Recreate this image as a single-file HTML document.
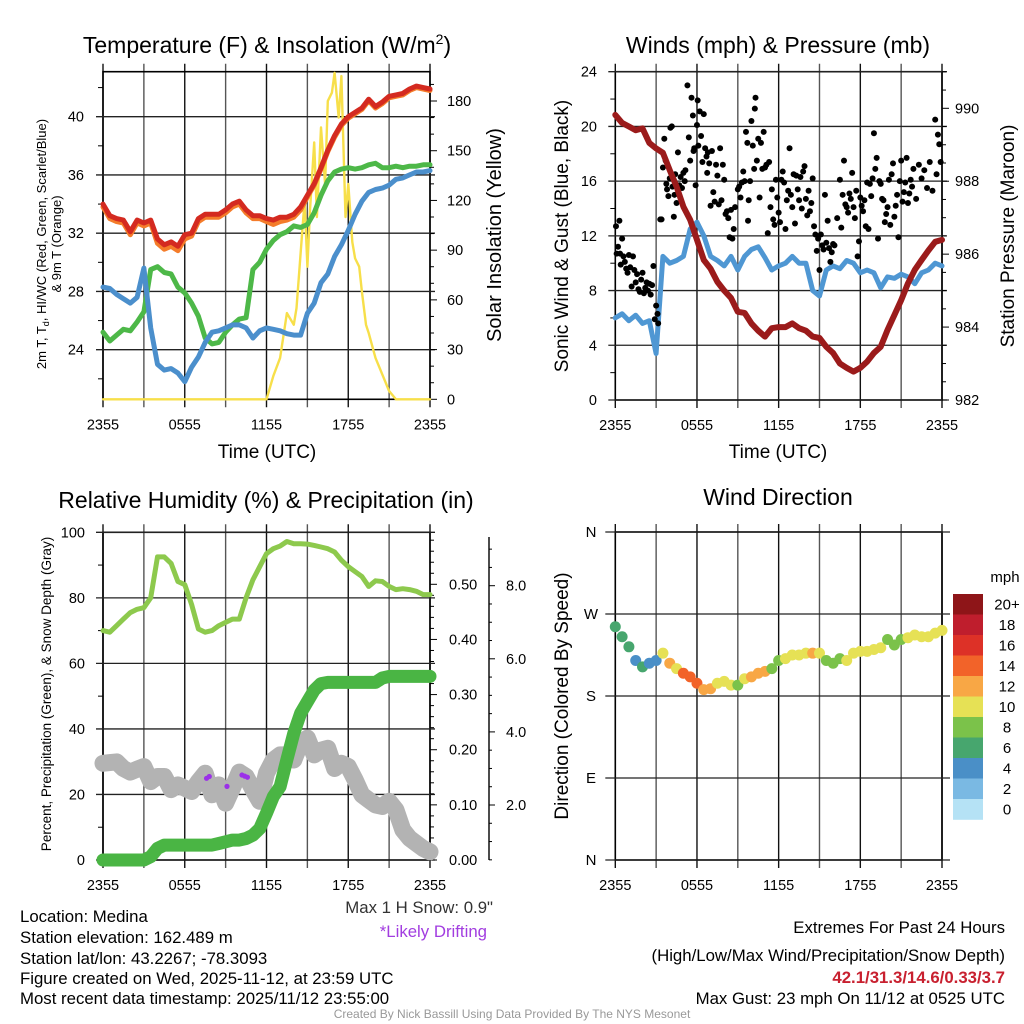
<!DOCTYPE html>
<html><head><meta charset="utf-8"><style>
html,body{margin:0;padding:0;background:#fff}
svg{display:block;font-family:"Liberation Sans",sans-serif}
</style></head><body>
<svg id="fig" width="1024" height="1024" viewBox="0 0 1024 1024">
<rect width="1024" height="1024" fill="#fff"/>
<g id="layer"></g>
<g font-size="23" text-anchor="middle" fill="#000">
<text x="267" y="53">Temperature (F) &amp; Insolation (W/m<tspan font-size="14" dy="-9">2</tspan><tspan dy="9">)</tspan></text>
<text x="778" y="53">Winds (mph) &amp; Pressure (mb)</text>
<text x="266" y="508">Relative Humidity (%) &amp; Precipitation (in)</text>
<text x="778" y="505">Wind Direction</text>
</g>
<g font-size="19" text-anchor="middle">
<text x="267" y="458">Time (UTC)</text>
<text x="778" y="458">Time (UTC)</text>
<text transform="translate(501,235) rotate(-90)" font-size="20">Solar Insolation (Yellow)</text>
<text transform="translate(568,236) rotate(-90)">Sonic Wind &amp; Gust (Blue, Black)</text>
<text transform="translate(1014,236) rotate(-90)">Station Pressure (Maroon)</text>
<text transform="translate(568,696) rotate(-90)">Direction (Colored By Speed)</text>
<text transform="translate(46,244) rotate(-90)" font-size="13">2m T, T<tspan font-size="9" dy="3">d</tspan><tspan dy="-3">, HI/WC (Red, Green, Scarlet/Blue)</tspan></text>
<text transform="translate(61,244) rotate(-90)" font-size="13">&amp; 9m T (Orange)</text>
<text transform="translate(51,694) rotate(-90)" font-size="13.5">Percent, Precipitation (Green), &amp; Snow Depth (Gray)</text>
</g>
<g font-size="16.8" fill="#000">
<text x="20" y="922">Location: Medina</text>
<text x="20" y="943">Station elevation: 162.489 m</text>
<text x="20" y="964">Station lat/lon: 43.2267; -78.3093</text>
<text x="20" y="984">Figure created on Wed, 2025-11-12, at 23:59 UTC</text>
<text x="20" y="1004">Most recent data timestamp: 2025/11/12 23:55:00</text>
<text x="493" y="913" text-anchor="end" fill="#333">Max 1 H Snow: 0.9"</text>
<text x="487" y="937" text-anchor="end" fill="#a23de0">*Likely Drifting</text>
<text x="1005" y="933" text-anchor="end">Extremes For Past 24 Hours</text>
<text x="1005" y="961" text-anchor="end">(High/Low/Max Wind/Precipitation/Snow Depth)</text>
<text x="1005" y="983" text-anchor="end" fill="#c8202f" font-weight="bold">42.1/31.3/14.6/0.33/3.7</text>
<text x="1005" y="1004" text-anchor="end">Max Gust: 23 mph On 11/12 at 0525 UTC</text>
<text x="512" y="1018" text-anchor="middle" font-size="12" fill="#999">Created By Nick Bassill Using Data Provided By The NYS Mesonet</text>
</g>
</svg>
<script>
// ---------- DATA ----------
const hours = [0,0.5,1,1.5,2,2.5,3,3.5,4,4.5,5,5.5,6,6.5,7,7.5,8,8.5,9,9.5,10,10.5,11,11.5,12,12.5,13,13.5,14,14.5,15,15.5,16,16.5,17,17.5,18,18.5,19,19.5,20,20.5,21,21.5,22,22.5,23,23.5,24];
const timeTickLabels = ["2355","0555","1155","1755","2355"];
const tempRed = [34,33.2,33,32.9,32.1,32.9,32.7,32.9,31.6,31.2,31.4,31.1,31.9,32,33,33.3,33.3,33.3,33.6,34,34.2,33.6,33.2,33.2,33,32.9,33.1,33.1,33.3,33.8,34.6,35.4,36.5,37.7,38.7,39.5,40,40.3,40.6,41.2,40.7,41,41.4,41.5,41.6,41.9,42.1,42,41.9];
const temp9m = [33.8,33,32.8,32.7,31.9,32.7,32.5,32.7,31.3,30.9,31.1,30.8,31.6,31.8,32.8,33.1,33.1,33.1,33.4,33.8,34,33.4,33,33,32.8,32.6,32.8,32.9,33.1,33.6,34.5,35.3,36.4,37.6,38.6,39.4,39.9,40.2,40.5,41.1,40.6,40.9,41.3,41.4,41.5,41.8,42,41.9,41.8];
const dewGreen = [25.2,24.6,25,25.4,25.3,25.9,26.6,29.5,29.7,29.3,29.2,28.3,27.9,27.2,26.3,24.8,24.4,24.5,25.2,25.7,26.1,26.2,29.5,30,30.9,31.5,31.9,32.1,32.5,32.4,32.6,33.4,34.6,35.6,36.2,36.4,36.5,36.4,36.5,36.7,36.8,36.5,36.5,36.6,36.5,36.6,36.6,36.7,36.7];
const windChill = [28.3,28.2,27.8,27.5,27.2,27.6,29.6,25.5,23,22.6,22.7,22.4,21.8,22.8,23.5,24.5,25.2,25.3,25.5,25.7,25.7,25.5,24.8,25.3,25.5,25.4,25.3,25.1,25,25,26.5,27.2,28.6,29.2,30.4,31.2,32.2,33.3,34.2,34.8,35,35.1,35.3,35.7,35.8,36,36.2,36.2,36.3];
const solarHours = [0,12,12.5,13,13.5,14,14.2,14.5,14.8,15,15.2,15.5,15.7,16,16.3,16.5,16.8,17,17.3,17.5,17.8,18,18.3,18.5,18.8,19,19.3,19.5,20,20.5,21,21.5,24];
const solarValues = [0,0,14,25,52,45,55,88,120,80,115,155,110,164,130,180,185,197,170,195,110,130,95,85,80,65,45,40,25,15,5,0,0];
const windSpeed = [6,6.3,5.8,6.2,5.6,5.8,3.4,10.5,10,10.2,10.5,12.5,13,12,10.5,10.2,9.8,10.5,9.5,10.5,11,11.2,10.4,9.5,9.8,10,10.5,10,10,8,7.6,9.5,9.8,9.6,10.2,10,9.3,9.5,9.3,8.2,9,8.9,9.2,9,8.5,9.3,9.5,10,9.8];
const pressure = [989.82,989.6,989.5,989.4,989.45,989.05,988.9,988.78,988.3,987.85,987.3,986.94,986.39,985.84,985.6,985.24,985,984.8,984.42,984.39,984.1,983.9,983.74,983.97,984,984,984.1,983.97,983.9,983.74,983.7,983.46,983.29,983,982.88,982.78,982.88,983.05,983.29,983.46,983.92,984.33,984.74,985.2,985.57,985.84,986.1,986.34,986.39];
const gustHours = [0.05,0.1,0.2,0.3,0.35,0.4,0.5,0.6,0.7,0.8,0.9,1,1.1,1.2,1.3,1.4,1.5,1.6,1.7,1.8,1.9,2,2.1,2.2,2.3,2.4,2.5,2.6,2.7,2.8,2.9,3,3.1,3.15,3.3,3.4,3.5,3.6,3.7,3.75,3.8,3.9,4,4.05,4.15,4.2,4.3,4.35,4.4,4.5,4.6,4.7,4.8,4.9,5,5.1,5.15,5.3,5.4,5.5,5.6,5.7,5.75,5.8,5.9,6,6.05,6.1,6.2,6.3,6.4,6.5,6.6,6.7,6.75,6.8,6.9,7,7.1,7.2,7.3,7.4,7.5,7.6,7.7,7.8,7.9,8,8.1,8.2,8.3,8.4,8.5,8.6,8.7,8.8,9,9.1,9.2,9.3,9.4,9.5,9.6,9.7,9.75,9.8,9.9,10,10.1,10.2,10.25,10.3,10.4,10.5,10.6,10.7,10.8,10.9,11,11.1,11.2,11.3,11.4,11.5,11.6,11.7,11.8,11.9,12,12.1,12.2,12.3,12.4,12.5,12.6,12.7,12.8,12.9,13,13.1,13.2,13.3,13.4,13.5,13.6,13.7,13.8,13.9,14,14.1,14.2,14.3,14.4,14.5,14.6,14.7,14.8,14.9,15,15.1,15.2,15.3,15.4,15.5,15.6,15.7,15.8,15.9,16,16.1,16.3,16.5,16.6,16.7,16.8,16.9,17,17.1,17.2,17.3,17.4,17.5,17.6,17.7,17.8,17.9,18,18.1,18.2,18.3,18.4,18.5,18.6,18.7,18.8,18.9,19,19.1,19.2,19.3,19.4,19.5,19.6,19.7,19.8,19.9,20,20.1,20.2,20.3,20.4,20.5,20.6,20.7,20.8,20.9,21,21.1,21.2,21.3,21.4,21.5,21.6,21.7,21.8,21.9,22.1,22.3,22.5,22.7,22.9,23.1,23.3,23.5,23.6,23.7,23.8,23.9];
const gustValues = [12.7,10.7,11.2,13.1,10.7,9.9,11.8,10.5,10.1,9.6,9.3,10.6,9.7,8.3,10.5,9.5,8.6,9.2,8.1,7.9,8.8,9.3,7.8,8.2,8.6,8,8.5,7.7,8.4,9.8,5.9,6.9,6.3,5.6,13.2,13.2,17,19.1,17.5,15.8,15.4,14.9,16.2,19.9,20,15.6,13.4,15,16.5,14.4,18.1,15.7,16.3,15.5,16.6,16,16.8,23,19.2,17.5,22.1,20.8,18.2,18.4,15.7,20.1,21.9,18.6,21.1,19.3,17.4,20.9,18.4,17.8,16.6,18.1,17.3,14.2,18.2,15.2,14.5,17.2,16.4,14.3,18.4,14.6,17.2,16.1,13.6,13.8,13.3,11.9,13.9,11.8,12.5,14.1,15.4,15.6,14.8,15.9,16.7,16,19.6,18.8,13.1,14.6,16,20.4,18.6,16.9,21.3,22.1,17.5,19.1,14.8,18.8,16.9,19.6,17,17.2,12.2,17.4,14.1,15.4,13.2,12.8,16.1,14.8,13.7,13,16.1,16.7,15.9,12.5,14.6,15.3,18.4,15,14.1,16.5,12.9,16.4,15.4,14.6,16.3,14,16.7,17.1,14.7,13.5,15.3,13.8,14.4,16.2,12.7,12.1,10.9,11.8,9.5,12.1,11.3,11,15,11.5,13.1,11.1,10.1,10.8,11.4,11.3,13.3,16.1,12.6,15,17.5,14.3,14.1,13.7,15.1,14.7,16.6,14.1,13.3,15.3,10.5,11.6,14.8,14.2,13.8,14.6,12.7,15.9,12.5,15.8,14.9,16.2,19.5,16.9,17.7,11.8,16,15.8,14.7,14.6,13,13.6,14.1,16.1,12.8,16.5,17.3,13.4,14.2,15,11.9,16,17.5,14.5,15.2,15.9,17.7,14.4,15.1,16.1,15.6,16.9,14.7,17.2,16.2,16.8,15.5,17.4,15.3,20.5,16.5,19.4,18.7,17.4];
const humidity = [70,69.5,71.5,73.5,75.5,76.5,77,80,92.5,92.5,90.5,85,84,78,70.5,69.5,70,71.5,72.5,73.5,73.5,80,85.5,89.5,93.5,95,95.8,97.2,96.5,96.5,96.4,96,95.5,95,94,91.5,89.5,88,86.5,83.5,85.2,85,83.5,82.5,82.8,82.5,82,81,81];
const precip = [0,0,0,0,0,0,0,0.006,0.021,0.027,0.027,0.027,0.027,0.027,0.027,0.027,0.027,0.03,0.033,0.036,0.036,0.039,0.045,0.057,0.085,0.115,0.133,0.182,0.23,0.266,0.287,0.308,0.32,0.322,0.322,0.322,0.322,0.322,0.322,0.322,0.322,0.33,0.333,0.333,0.333,0.333,0.333,0.333,0.333];
const snowDepth = [3.14,3.16,3.18,3.0,2.9,2.98,3.05,2.64,2.78,2.78,2.42,2.55,2.46,2.37,2.64,2.87,2.28,2.55,2.05,2.46,2.9,2.78,2.42,2.1,2.87,3.23,3.37,3.37,3.23,3.69,3.83,3.37,3.5,3.55,3.0,3.14,3.05,2.69,2.28,2.14,2.0,1.96,2.1,1.87,1.32,1.09,0.95,0.81,0.72];
const driftHours = [7.6,7.8,9.1,10.2,10.4,10.6];
const driftDepth = [2.73,2.78,2.51,2.82,2.79,2.76];
const windDir = [256,245,234,219,212,216,219,227,216,210,205,201,194,187,188,194,196,192,192,199,201,205,207,210,219,221,225,225,227,227,227,219,216,221,219,227,229,229,231,233,242,236,242,244,247,245,245,249,252];
const dirSpeed = [6,6,6,4,6,4,5,10,12,11,14,14,14,12,12,10,10,10,8,11,12,13,12,9,8,10,10,10,10,12,10,8,8,8,10,10,10,10,10,10,8,8,8,10,10,10,10,10,10];
const barLabels = ["20+","18","16","14","12","10","8","6","4","2","0"];
const barColors = ["#8e1518","#bf1e2d","#dd3127","#f26329","#f8a745","#e6e155","#7bc24a","#47a66e","#4a8fc7","#7ab9e3","#b5e2f5"];

// ---------- helpers ----------
const NS = "http://www.w3.org/2000/svg";
const layer = document.getElementById('layer');
function mk(tag, attrs, parent){ const e=document.createElementNS(NS,tag); for(const k in attrs) e.setAttribute(k,attrs[k]); (parent||layer).appendChild(e); return e; }
function lin(d0,d1,r0,r1){ return v => r0 + (v-d0)*(r1-r0)/(d1-d0); }
function pathD(xs, ys, fx, fy){ return xs.map((x,i)=>(i?'L':'M')+fx(x).toFixed(1)+','+fy(ys[i]).toFixed(1)).join(''); }

function frame(L,R,T,B,name){
  for(let h=0; h<=24; h+=3){
    const x = lin(0,24,L,R)(h);
    const g = mk('line',{x1:x,x2:x,y1:T-8,y2:B+8,stroke:(h%6===0)?'#111':'#555','stroke-width':1.4});
    
    
  }
  const f = mk('rect',{x:L,y:T,width:R-L,height:B-T,fill:'none',stroke:'#000','stroke-width':1.6});
  
  
  timeTickLabels.forEach((t,i)=>{
    const tx = mk('text',{x:lin(0,24,L,R)(i*6),y:B+30,'text-anchor':'middle','font-size':14.5});
    tx.textContent = t;
    
    
  });
}
function hgrid(L,R,y,name){
  const g = mk('line',{x1:L-7,x2:R+5,y1:y,y2:y,stroke:'#222','stroke-width':1.3});
  
  
}
function label(x,y,txt,anchor,name,size){
  const t = mk('text',{x:x,y:y+5,'text-anchor':anchor,'font-size':size||14.5});
  t.textContent = txt;
  
  
}
function tick(x1,x2,y,name){
  const t = mk('line',{x1:x1,x2:x2,y1:y,y2:y,stroke:'#000','stroke-width':1});
  
  
}
function line(xs,ys,fx,fy,color,w,name){
  const p = mk('path',{d:pathD(xs,ys,fx,fy),fill:'none',stroke:color,'stroke-width':w,'stroke-linejoin':'round','stroke-linecap':'round'});
  
  
  return p;
}

// ---------- Panel 1: temperature ----------
(function(){
  const L=103,R=430,T=71.7,B=399.3;
  const fx = lin(0,24,L,R), fy = lin(24,40,349.7,116.7), fs = lin(0,180,399.3,101);
  frame(L,R,T,B,'temp');
  [24,28,32,36,40].forEach(v=>{ hgrid(L,R,fy(v),'temp-hgrid'); label(84,fy(v),String(v),'end','temp-y-tick-label'); });
  [22,26,30,34,38,42].forEach(v=>tick(L-5,L,fy(v),'temp-minor-tick'));
  for(let v=0; v<=190; v+=10){ tick(R,R+(v%30===0?7:4),fs(v),'solar-tick'); }
  [0,30,60,90,120,150,180].forEach(v=>label(447,fs(v),String(v),'start','solar-tick-label'));
  line(solarHours,solarValues,fx,fs,'#f7df4a',2.4,'solar-insolation-line');
  line(hours,dewGreen,fx,fy,'#4db848',5,'dewpoint-line');
  line(hours,windChill,fx,fy,'#4b8fcc',5,'windchill-line');
  line(hours,temp9m,fx,fy,'#f47c2a',5,'temp-9m-line');
  line(hours,tempRed,fx,fy,'#d42a20',5,'temp-2m-line');
})();

// ---------- Panel 2: winds ----------
(function(){
  const L=615.3,R=942,T=71.7,B=400;
  const fx = lin(0,24,L,R), fy = lin(0,24,B,T), fp = lin(982,990,400,108.3);
  frame(L,R,T,B,'wind');
  [0,4,8,12,16,20,24].forEach(v=>{ hgrid(L,R,fy(v),'wind-hgrid'); label(597,fy(v),String(v),'end','wind-y-tick-label'); });
  [2,6,10,14,18,22].forEach(v=>tick(L-5,L,fy(v),'wind-minor-tick'));
  for(let v=982; v<=991; v+=0.5){ tick(R,R+(v%2===0?7:4),fp(v),'pressure-tick'); }
  [982,984,986,988,990].forEach(v=>label(955,fp(v),String(v),'start','pressure-tick-label'));
  line(hours,windSpeed,fx,fy,'#4f97d3',5,'wind-speed-line');
  gustHours.forEach((h,i)=>{
    const c = mk('circle',{cx:fx(h),cy:fy(gustValues[i]),r:3,fill:'#000'});
    
    
  });
  line(hours,pressure,fx,fp,'#9b1b1b',6,'pressure-line');
})();

// ---------- Panel 3: humidity / precip / snow ----------
(function(){
  const L=103,R=430,T=532.3,B=860;
  const fx = lin(0,24,L,R), fy = lin(0,100,B,T), fpr = lin(0,0.5,B,584.3), fsn = lin(2,8,805,585.7);
  frame(L,R,T,B,'rh');
  [0,20,40,60,80,100].forEach(v=>{ hgrid(L,R,fy(v),'rh-hgrid'); label(85,fy(v),String(v),'end','rh-y-tick-label'); });
  [10,30,50,70,90].forEach(v=>tick(L-5,L,fy(v),'rh-minor-tick'));
  for(let v=0; v<=0.59; v+=0.02){ tick(R,R+(Math.abs(v*10-Math.round(v*10))<0.01?7:4),fpr(v),'precip-tick'); }
  [0,0.1,0.2,0.3,0.4,0.5].forEach(v=>label(449,fpr(v),v.toFixed(2),'start','precip-tick-label'));
  const ax = mk('line',{x1:489,x2:489,y1:537,y2:860,stroke:'#000','stroke-width':1.4});
  
  
  for(let v=0.5; v<=9; v+=0.5){ tick(489,489+(v%2===0?6:3),fsn(v),'snow-tick'); }
  [2,4,6,8].forEach(v=>label(506,fsn(v),v.toFixed(1),'start','snow-tick-label'));
  line(hours,snowDepth,fx,fsn,'#b3b3b3',17,'snow-depth-line');
  driftHours.forEach((h,i)=>{
    const c = mk('circle',{cx:fx(h),cy:fsn(driftDepth[i]),r:2.6,fill:'#9b30e8'});
    
    
  });
  line(hours,precip,fx,fpr,'#4ab544',13,'precipitation-line');
  line(hours,humidity,fx,fy,'#8dc94d',5,'humidity-line');
})();

// ---------- Panel 4: wind direction ----------
(function(){
  const L=615.3,R=942,T=532,B=860;
  const fx = lin(0,24,L,R), fy = lin(0,360,B,T);
  frame(L,R,T,B,'dir');
  const dirLabels = ["N","E","S","W","N"];
  [0,90,180,270,360].forEach((v,i)=>{ hgrid(L-3,R+3,fy(v),'dir-hgrid'); label(591,fy(v),dirLabels[i],'middle','dir-y-tick-label',15); });
  function col(s){ let idx = Math.min(10, Math.floor(s/2)); return barColors[10-idx]; }
  hours.forEach((h,i)=>{
    const c = mk('circle',{cx:fx(h),cy:fy(windDir[i]),r:5.5,fill:col(dirSpeed[i])});
    
    
  });
  const top=594, bh=20.5;
  label(1005,top-17,'mph','middle','colorbar-title',15);
  barLabels.forEach((t,i)=>{
    const r = mk('rect',{x:953,y:top+i*bh,width:30,height:bh+0.3,fill:barColors[i]});
    
    
    label(1007,top+i*bh+bh/2,t,'middle','colorbar-label',15);
  });
})();
</script>
</body></html>
